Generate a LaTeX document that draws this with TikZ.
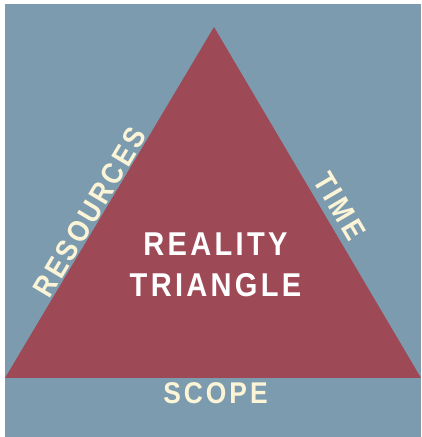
\documentclass[tikz,border=0pt]{standalone}
\usepackage{fontspec}
\usepackage{tikz}
\newfontfamily\realityfont[FakeStretch=0.88,LetterSpace=10]{Liberation Sans}
\definecolor{slateBg}{HTML}{7C9BAF}
\definecolor{triRed}{HTML}{9E4A56}
\definecolor{creamTxt}{HTML}{FCF4D6}
\begin{document}
\begin{tikzpicture} %
		[
			x=1pt, y=1pt,
			font={\realityfont\bfseries},
			every text node part/.style={align=center},
			side/.style={text=creamTxt, inner sep=0, font={\realityfont\bfseries\fontsize{30}{30}\selectfont}},
			core/.style={text=white, inner sep=0, font={\realityfont\bfseries\fontsize{33}{41}\selectfont}},
		]
		\useasboundingbox (0,0) rectangle (422,437);
		\fill[slateBg] (5,0) rectangle (421,433);
		% corners of the triangle
		\coordinate (bl) at (5,59);
		\coordinate (br) at (421,59);
		\coordinate (apex) at (214,410);
		\fill[triRed] (bl) -- (apex) -- (br) -- cycle;
		\node[core, anchor=base] (reality) at (215.5,140) {REALITY\\TRIANGLE};
		\node[side, anchor=base] (scope) at (215.5,33) {SCOPE};
		\path (bl) -- node[side, sloped, above=1pt, pos=0.455] (resources) {RESOURCES} (apex);
		\path (apex) -- node[side, sloped, above=7pt, pos=0.536] (time) {TIME} (br);
	\end{tikzpicture}
\end{document}
